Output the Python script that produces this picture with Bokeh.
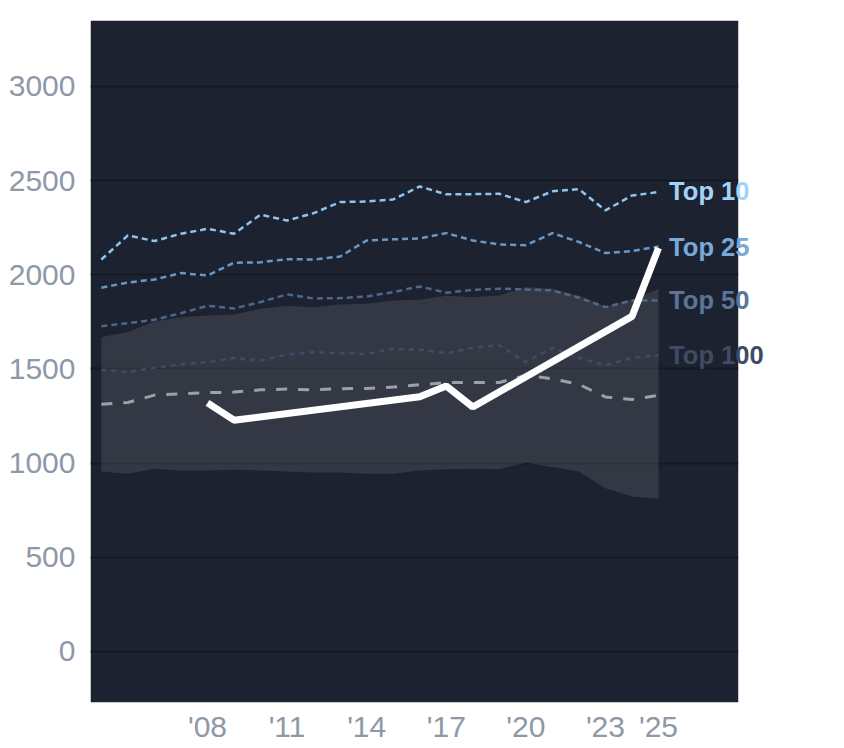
from bokeh.plotting import figure
from bokeh.models import Range1d, FixedTicker, Label, ColumnDataSource, BoxAnnotation
from bokeh.embed import file_html
from bokeh.resources import INLINE

years = list(range(2004, 2026))
top10 = [2081, 2209, 2179, 2218, 2244, 2218, 2319, 2288, 2327, 2386, 2389,
         2400, 2469, 2427, 2428, 2430, 2386, 2443, 2455, 2342, 2421, 2439]
top25 = [1931, 1959, 1975, 2009, 1996, 2064, 2066, 2083, 2081, 2097, 2182,
         2188, 2193, 2221, 2182, 2161, 2157, 2221, 2174, 2115, 2126, 2150]
top50 = [1727, 1743, 1761, 1796, 1835, 1821, 1855, 1896, 1874, 1876, 1885,
         1908, 1938, 1905, 1920, 1926, 1922, 1917, 1878, 1828, 1864, 1864]
top100 = [1496, 1483, 1506, 1524, 1536, 1559, 1545, 1577, 1589, 1584, 1580,
          1607, 1602, 1584, 1612, 1627, 1536, 1612, 1559, 1519, 1559, 1572]
median = [1312, 1322, 1361, 1368, 1374, 1377, 1389, 1393, 1389, 1395, 1396,
          1404, 1416, 1428, 1428, 1428, 1466, 1448, 1418, 1351, 1338, 1360]
band_low = [956, 943, 970, 961, 961, 965, 961, 956, 950, 950, 943,
            943, 961, 968, 970, 968, 1002, 979, 956, 867, 823, 811]
band_high = [1669, 1696, 1752, 1775, 1784, 1789, 1819, 1835, 1828, 1842, 1846,
             1864, 1867, 1889, 1881, 1890, 1935, 1926, 1890, 1832, 1867, 1924]
player_years = [2008, 2009, 2016, 2017, 2018, 2024, 2025]
player = [1320, 1228, 1352, 1410, 1298, 1779, 2142]

x_ticks = [2008, 2011, 2014, 2017, 2020, 2023, 2025]
x_tick_labels = ["'08", "'11", "'14", "'17", "'20", "'23", "'25"]
y_ticks = [0, 500, 1000, 1500, 2000, 2500, 3000]
series_labels = ["Top 10", "Top 25", "Top 50", "Top 100"]
label_values = [2443, 2150, 1864, 1572]

BG = "#1d2230"
X_START, X_PANEL_END = 2003.59, 2028.015
Y_START, Y_END = -271, 3350
PX_PER_YEAR = 26.53
FRAME_W = 710  # frame extends past the dark panel so labels can overflow
X_END = X_START + FRAME_W / PX_PER_YEAR

p = figure(width=90 + FRAME_W + 20, height=748, output_backend="svg",
           toolbar_location=None,
           x_range=Range1d(X_START, X_END), y_range=Range1d(Y_START, Y_END),
           min_border_left=90, min_border_right=20, min_border_top=20,
           min_border_bottom=46)
p.background_fill_color = "white"
p.border_fill_color = "white"
p.outline_line_color = None

# dark panel (drawn below the grid)
p.add_layout(BoxAnnotation(right=X_PANEL_END, fill_color=BG, fill_alpha=1,
                           line_color=None, level="image"))

p.xgrid.grid_line_color = None
p.ygrid.grid_line_color = "#151924"
p.ygrid.grid_line_width = 2
p.ygrid.ticker = FixedTicker(ticks=y_ticks)
yg = p.ygrid[0]
if "cross_bounds" in yg.properties():
    yg.cross_bounds = (X_START, X_PANEL_END)

for ax in (p.xaxis[0], p.yaxis[0]):
    ax.axis_line_color = None
    ax.major_tick_line_color = None
    ax.minor_tick_line_color = None
    ax.major_tick_in = 0
    ax.major_tick_out = 0
    ax.minor_tick_out = 0
    ax.major_label_text_font = "Liberation Sans"
    ax.major_label_text_font_size = "30px"
    ax.major_label_text_color = "#8e98a7"
p.yaxis.ticker = FixedTicker(ticks=y_ticks)
p.yaxis.major_label_standoff = 15
p.xaxis.ticker = FixedTicker(ticks=x_ticks)
p.xaxis.major_label_overrides = {t: l for t, l in zip(x_ticks, x_tick_labels)}
p.xaxis.major_label_standoff = 7

# white mask right of the dark panel hides any grid remnants there
p.add_layout(BoxAnnotation(left=X_PANEL_END, right=X_END + 2,
                           bottom=Y_START - 200, top=Y_END + 200,
                           fill_color="white", fill_alpha=1, line_color=None))

src = ColumnDataSource(dict(x=years, lo=band_low, hi=band_high))
p.varea(x="x", y1="lo", y2="hi", source=src, fill_color="white", fill_alpha=0.1)

p.line(years, top100, line_color="#3f4c66", line_width=2.5, line_dash="5 5")
p.line(years, median, line_color="#9ba1ab", line_width=3, line_dash="11 11")
p.line(years, top50, line_color="#4f6788", line_width=2.5, line_dash="6 4")
p.line(years, top25, line_color="#6a98c6", line_width=2.5, line_dash="6 4")
p.line(years, top10, line_color="#8fc4ec", line_width=2.5, line_dash="6 4")
p.line(player_years, player, line_color="white", line_width=7)

label_colors = ["#a3d3f9", "#78a9d8", "#5a7597", "#3f4b63"]
for txt, val, col in zip(series_labels, label_values, label_colors):
    p.add_layout(Label(x=2025.4, y=val, text=txt, text_color=col,
                       text_font="Liberation Sans", text_font_style="bold",
                       text_font_size="25.5px", text_baseline="middle",
                       text_align="left"))

open("out.html", "w").write(file_html(p, INLINE))
